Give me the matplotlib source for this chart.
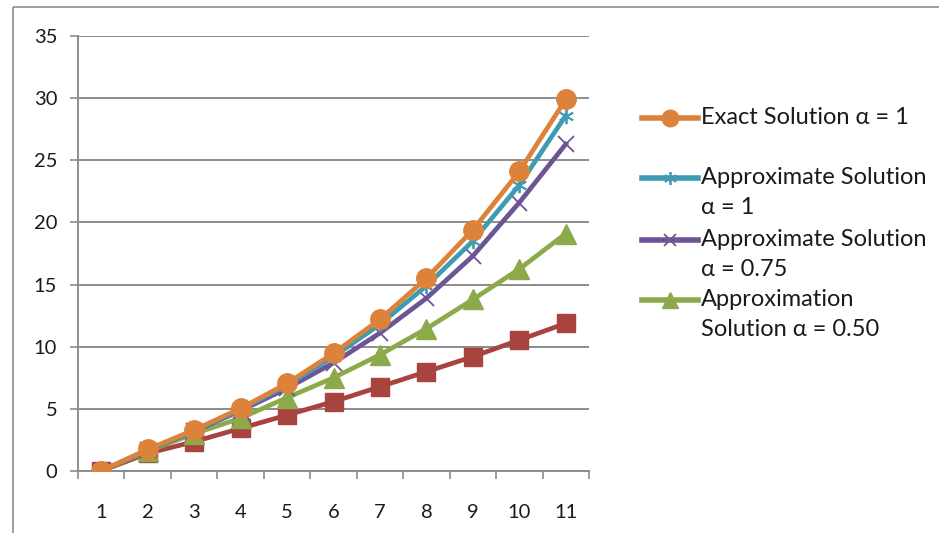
import numpy as np
import matplotlib.pyplot as plt
from matplotlib.lines import Line2D
from matplotlib.patches import Rectangle

plt.rcParams['font.family'] = ['Lato', 'DejaVu Sans']

categories = [1, 2, 3, 4, 5, 6, 7, 8, 9, 10, 11]
exact_a1 = [0, 1.74, 3.3, 5.04, 7.05, 9.47, 12.2, 15.5, 19.4, 24.1, 29.9]
approx_a1 = [0, 1.7, 3.25, 4.95, 6.9, 9.2, 11.8, 14.9, 18.5, 23.0, 28.6]
approx_a075 = [0, 1.68, 3.2, 4.85, 6.65, 8.7, 11.1, 13.9, 17.3, 21.6, 26.3]
approx_a050 = [0, 1.6, 3.0, 4.25, 5.9, 7.5, 9.35, 11.45, 13.8, 16.25, 19.1]
lower_series = [0, 1.42, 2.36, 3.43, 4.5, 5.58, 6.78, 7.99, 9.2, 10.54, 11.88]
y_ticks = [0, 5, 10, 15, 20, 25, 30, 35]

labels = ["Exact Solution \u03b1 = 1",
          "Approximate Solution\n\u03b1 = 1",
          "Approximate Solution\n\u03b1 = 0.75",
          "Approximation\nSolution \u03b1 = 0.50"]

styles = [
    dict(color='#DC823B', marker='o', markersize=14, mec='#DC823B', mew=1),
    dict(color='#3F9BB4', marker=(6, 2, 0), markersize=11, mec='#3F9BB4', mew=1.3),
    dict(color='#6D5495', marker='x', markersize=11, mec='#6D5495', mew=1.3),
    dict(color='#8DAA4B', marker='^', markersize=14, mec='#8DAA4B', mew=1),
]
red_style = dict(color='#A8433F', marker='s', markersize=13, mec='#A8433F', mew=1)

fig = plt.figure(figsize=(9.39, 5.33), dpi=100)

# background axes in pixel coords for frame and legend
bg = fig.add_axes([0, 0, 1, 1])
bg.set_xlim(0, 939)
bg.set_ylim(533, 0)
bg.axis('off')
bg.add_patch(Rectangle((13, 7), 940, 540, fill=False, ec='#8C8C8C', lw=1.2))

ax = fig.add_axes([78 / 939, 1 - 471 / 533, (589 - 78) / 939, (471 - 36) / 533])
x = np.array(categories)

ax.plot(x, lower_series, lw=3.4, zorder=3, **red_style)
series = [exact_a1, approx_a1, approx_a075, approx_a050]
zs = [7, 6, 5, 4]
for vals, st, z in zip(series, styles, zs):
    ax.plot(x, vals, lw=3.4, zorder=z, **st)

ax.set_xlim(0.5, 11.5)
ax.set_ylim(0, 35)
ax.set_yticks(y_ticks)
ax.set_xticks(np.arange(0.5, 12, 1))
ax.set_xticklabels([])
ax.set_xticks(x, minor=True)
ax.set_xticklabels([str(c) for c in categories], minor=True)
ax.grid(axis='y', color='#8C8C8C', lw=1.4, zorder=0)
for s in ['top', 'right']:
    ax.spines[s].set_visible(False)
for s in ['left', 'bottom']:
    ax.spines[s].set_color('#8C8C8C')
    ax.spines[s].set_linewidth(1.4)
ax.tick_params(axis='y', which='major', length=6, width=1.2, color='#8C8C8C',
               labelsize=14.5, pad=9)
ax.tick_params(axis='x', which='major', length=6, width=1.2, color='#8C8C8C')
ax.tick_params(axis='x', which='minor', length=0, labelsize=14.5, pad=24)
for t in ax.get_yticklabels() + ax.get_xticklabels(minor=True):
    t.set_color('#1A1A1A')

# legend drawn by hand so the marker sits on the first text line
first_line_y = [118, 178, 240, 300]
for lab, st, yy in zip(labels, styles, first_line_y):
    bg.add_line(Line2D([642, 698], [yy, yy], lw=4, color=st['color']))
    bg.add_line(Line2D([670], [yy], **dict(st, markersize=st['markersize'] * 0.85)))
    bg.text(701, yy - 11, lab, fontsize=17, va='top', ha='left',
            color='#1A1A1A', linespacing=1.55)

fig.savefig('out.png', dpi=100)
